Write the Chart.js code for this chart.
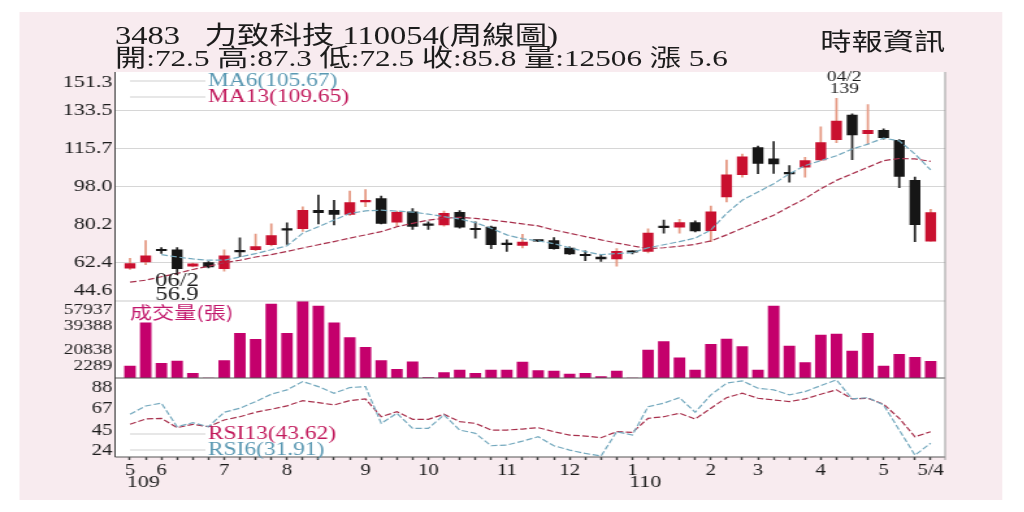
<!DOCTYPE html>
<html lang="zh-Hant">
<head>
<meta charset="utf-8">
<title>3483 力致科技 周線圖</title>
<script src="https://cdn.jsdelivr.net/npm/chart.js@4.4.1/dist/chart.umd.min.js"></script>
<style>
  html, body { margin: 0; padding: 0; background: #ffffff; }
  body { width: 1024px; height: 512px; overflow: hidden; position: relative; }
  /* the printed chart is stretched sideways, so lay it out narrow and widen it */
  #stage { position: absolute; left: 0; top: 0; width: 788px; height: 512px; transform: scaleX(1.3); transform-origin: 0 0; }
  #panel { position: absolute; left: 15.4px; top: 12px; width: 755.4px; height: 488px; background: #f8ebef; }
  #chart { position: absolute; left: 0; top: 0; }
  .txt { position: absolute; white-space: pre; font-family: "Liberation Serif", "Noto Sans CJK TC", serif; color: #1c1c1c; line-height: 1; }
  #title { left: 88.5px; top: 23px; font-size: 25px; }
  #quote { left: 88.5px; top: 46px; font-size: 24px; }
  #source { right: 61px; top: 28px; font-size: 24px; font-family: "Noto Sans CJK TC", serif; }
</style>
</head>
<body>
<div id="stage">
  <div id="panel"></div>
  <canvas id="chart" width="788" height="512"></canvas>
  <div id="title" class="txt"></div>
  <div id="quote" class="txt"></div>
  <div id="source" class="txt">時報資訊</div>
</div>
<script>
const stockCode = '3483';
const stockName = '力致科技';
const dateCode = '110054';

// one entry per week, month number where a month starts
const weekLabels = ['5','','6','','','','7','','','','8','','','','','9','','','','10','','','','','11','','','','12','','','','1','','','','','2','','','3','','','','4','','','','5','','','5/4'];
const yearLabels = [{ at: 0, text: '109' }, { at: 32, text: '110' }];

const openPrice  = [59.9, 62.8, 68.4, 68.5, 60.8, 62.5, 59.7, 67.9, 68.5, 70.8, 77.8, 78.3, 86.9, 86.9, 84.9, 90.8, 92.3, 81.3, 86.2, 80.2, 80.0, 85.9, 78.2, 79.0, 71.3, 70.5, 72.6, 72.8, 69.3, 66.1, 65.1, 64.2, 67.6, 67.7, 79.2, 79.0, 81.1, 77.4, 93.1, 103.5, 116.1, 110.8, 104.2, 106.9, 110.3, 119.8, 131.2, 122.6, 124.1, 119.5, 100.8, 72.5];
const highPrice  = [64.5, 72.8, 69.5, 69.5, 62.3, 63.0, 68.5, 74.0, 75.8, 80.5, 81.0, 88.5, 94.0, 91.5, 95.8, 96.5, 93.5, 86.5, 87.7, 81.5, 86.5, 86.7, 81.5, 79.5, 73.1, 75.7, 72.8, 74.2, 69.8, 68.0, 65.9, 69.0, 68.0, 78.2, 82.3, 82.7, 82.0, 88.8, 110.3, 113.1, 116.8, 118.9, 107.7, 111.5, 125.7, 139.0, 131.8, 136.1, 124.8, 119.8, 102.3, 87.3];
const lowPrice   = [59.3, 61.5, 66.8, 56.9, 60.5, 60.0, 58.5, 65.2, 68.0, 70.3, 71.0, 77.0, 80.5, 80.0, 84.5, 88.5, 80.5, 79.3, 78.0, 78.0, 79.5, 78.5, 73.9, 69.0, 67.7, 69.3, 72.3, 68.8, 66.3, 63.4, 63.1, 60.8, 66.5, 67.0, 76.2, 76.2, 76.8, 72.3, 90.8, 102.3, 103.9, 104.1, 100.0, 102.3, 110.0, 118.4, 110.4, 117.7, 120.0, 97.4, 72.3, 72.5];
const closePrice = [62.0, 65.7, 68.0, 59.7, 61.9, 60.5, 65.7, 67.5, 70.0, 75.1, 77.6, 86.9, 85.7, 84.9, 90.5, 91.3, 80.8, 85.9, 79.3, 79.8, 85.4, 79.0, 77.8, 70.8, 70.9, 72.0, 72.5, 69.0, 66.5, 65.7, 64.2, 67.7, 67.3, 76.2, 78.8, 81.1, 77.3, 86.2, 103.4, 111.8, 108.7, 108.5, 103.8, 110.0, 118.4, 128.4, 122.0, 124.1, 120.7, 102.6, 80.2, 85.8];
const volume     = [9029, 41600, 11060, 12790, 3540, 0, 13020, 33630, 29120, 55680, 33630, 57937, 54170, 41600, 30320, 23100, 13020, 6550, 12260, 250, 3990, 6020, 3540, 6020, 6020, 12040, 5490, 5270, 3010, 3540, 980, 5270, 0, 21070, 27310, 15270, 6020, 25360, 29340, 23550, 6020, 54170, 24080, 11510, 32350, 33110, 20310, 33630, 9030, 17830, 15570, 12506];
const ma6   = [null, null, 66.2, 65.1, 64.2, 63.6, 63.6, 65.1, 66.7, 68.5, 70.3, 76.2, 79.2, 82.3, 85.4, 86.6, 86.9, 86.5, 86.0, 85.1, 83.9, 82.8, 81.1, 78.5, 75.4, 73.6, 72.6, 71.3, 69.4, 67.6, 66.2, 66.7, 67.1, 69.4, 70.8, 72.3, 73.9, 77.7, 85.4, 91.6, 95.4, 99.2, 103.9, 107.7, 110.0, 112.3, 115.4, 117.7, 120.5, 119.2, 113.1, 105.67];
const ma13  = [53.4, 54.3, 55.9, 57.4, 59.3, 60.8, 62.4, 63.6, 65.1, 66.2, 67.7, 69.3, 70.8, 72.3, 73.9, 75.4, 76.9, 79.2, 80.8, 82.3, 83.1, 83.6, 83.1, 82.3, 81.5, 80.5, 79.6, 77.7, 76.2, 74.6, 73.1, 71.6, 70.3, 69.0, 69.4, 70.1, 71.0, 72.6, 75.4, 78.5, 81.5, 84.6, 88.5, 92.3, 96.9, 100.8, 103.9, 106.9, 110.0, 111.0, 110.8, 109.65];
const rsi6  = [61.3, 69.7, 72.5, 48.7, 52.7, 48.7, 63.3, 67.4, 74.1, 81.6, 86.0, 94.4, 89.3, 82.6, 88.3, 89.3, 52.1, 62.3, 47.0, 47.0, 60.6, 45.3, 42.0, 29.4, 30.1, 34.1, 38.5, 29.4, 25.0, 21.6, 19.0, 43.6, 40.2, 69.0, 72.5, 78.1, 63.3, 80.9, 92.8, 95.1, 87.7, 86.0, 80.9, 84.2, 90.3, 96.1, 76.8, 78.1, 70.7, 45.3, 19.9, 31.91];
const rsi13 = [51.1, 56.5, 57.2, 47.7, 51.1, 48.7, 55.5, 58.8, 63.3, 66.4, 69.7, 75.1, 73.1, 70.7, 75.1, 76.8, 58.8, 63.9, 56.2, 56.2, 61.3, 53.8, 52.1, 45.3, 45.3, 46.3, 47.7, 43.6, 40.2, 39.2, 37.5, 43.6, 43.0, 57.2, 58.8, 62.3, 56.5, 67.4, 78.1, 82.6, 77.5, 75.8, 74.1, 76.8, 81.6, 86.0, 76.8, 77.5, 71.4, 57.2, 38.5, 43.62];

const priceTicks = [44.6, 62.4, 80.2, 98.0, 115.7, 133.5, 151.3];
const volumeTicks = [2289, 20838, 39388, 57937];
const rsiTicks = [24, 45, 67, 88];
const priceGridSkip = [80.2]; // the print has no grid line at this level

const lowMark = { at: 3, label: '06/2' };
const highMark = { at: 45, label: '04/2' };

const UP = '#c9102f', DOWN = '#161616', UP_WICK = '#e69a84', DOWN_WICK = '#2a2a2a';
const VOL = '#c4006c';
const LINE_A = '#74a9be', LINE_B = '#a8304c';
const serif = '"Liberation Serif", "Noto Sans CJK TC", serif';

const last = closePrice.length - 1;
const isUp = closePrice.map((c, i) => c >= openPrice[i]);
const pts = arr => arr.map((v, i) => ({ x: i, y: v }));

document.getElementById('title').textContent = stockCode + '   ' + stockName + ' ' + dateCode + '(周線圖)';
document.getElementById('quote').textContent =
    '開:' + openPrice[last].toFixed(1) + ' 高:' + highPrice[last].toFixed(1) +
    ' 低:' + lowPrice[last].toFixed(1) + ' 收:' + closePrice[last].toFixed(1) +
    ' 量:' + volume[last] + ' 漲 ' + (closePrice[last] - closePrice[last - 1]).toFixed(1);

// push the first and last label of a pane inside it
function edgeLabel(text, i, n) {
    if (i === 0) return [text, ''];
    if (i === n - 1) return ['', text];
    return text;
}

const decorations = {
    id: 'decorations',
    beforeDraw(chart) {
        const { ctx, chartArea: a } = chart;
        ctx.save();
        ctx.fillStyle = '#ffffff';
        ctx.fillRect(a.left, a.top, a.right - a.left, a.bottom - a.top);
        ctx.restore();
    },
    afterDraw(chart) {
        const { ctx, chartArea: a, scales } = chart;
        const { x, yP, yV, yR } = scales;
        ctx.save();
        ctx.lineWidth = 1;

        function hline(y, color) {
            ctx.strokeStyle = color;
            ctx.beginPath();
            ctx.moveTo(a.left, y);
            ctx.lineTo(a.right, y);
            ctx.stroke();
        }
        hline(yP.bottom, '#c9c9c9');
        hline(yV.bottom, '#555555');
        hline(a.bottom, '#555555');
        ctx.strokeStyle = '#444444';
        ctx.beginPath(); ctx.moveTo(a.left, a.top); ctx.lineTo(a.left, a.bottom); ctx.stroke();
        ctx.strokeStyle = '#9a9a9a';
        ctx.beginPath(); ctx.moveTo(a.right, a.top); ctx.lineTo(a.right, a.bottom + 3); ctx.stroke();

        // legends with a short grey key line
        const x0 = x.getPixelForValue(0);
        function legend(y, text, color) {
            ctx.strokeStyle = '#cfcfcf';
            ctx.beginPath(); ctx.moveTo(x0, y); ctx.lineTo(x0 + 58, y); ctx.stroke();
            ctx.fillStyle = color;
            ctx.font = '18px ' + serif;
            ctx.textAlign = 'left';
            ctx.textBaseline = 'middle';
            ctx.fillText(text, x0 + 60, y);
        }
        legend(a.top + 9, 'MA6(' + ma6[last].toFixed(2) + ')', '#5b99b3');
        legend(a.top + 25, 'MA13(' + ma13[last].toFixed(2) + ')', '#c21a5c');
        legend(yR.bottom - 23, 'RSI13(' + rsi13[last].toFixed(2) + ')', '#c21a5c');
        legend(yR.bottom - 7, 'RSI6(' + rsi6[last].toFixed(2) + ')', '#5b99b3');

        ctx.fillStyle = '#c2186c';
        ctx.font = '17px "Noto Sans CJK TC", serif';
        ctx.fillText('成交量(張)', x0, yV.top + 12);

        // low and high marks
        ctx.fillStyle = '#1c1c1c';
        ctx.textAlign = 'center';
        const lx = x.getPixelForValue(lowMark.at);
        const ly = yP.getPixelForValue(lowPrice[lowMark.at]);
        ctx.font = '19px ' + serif;
        ctx.fillText(lowMark.label, lx, ly + 6);
        ctx.fillText(lowPrice[lowMark.at].toFixed(1), lx, ly + 20);
        const hx = x.getPixelForValue(highMark.at) + 6;
        const hy = yP.getPixelForValue(highPrice[highMark.at]);
        ctx.font = '15px ' + serif;
        ctx.fillText(highMark.label, hx, hy - 21);
        ctx.fillText(String(Math.round(highPrice[highMark.at])), hx, hy - 9);

        // year under the first month of each year
        ctx.textAlign = 'left';
        ctx.font = '17px ' + serif;
        yearLabels.forEach(y => ctx.fillText(y.text, x.getPixelForValue(y.at) - 2.5, 483));
        ctx.restore();
    }
};

const lineStyle = { type: 'line', borderWidth: 1.2, borderDash: [5, 2], pointRadius: 0, tension: 0, order: 1 };
const tickFont = size => ({ family: serif, size: size });

new Chart(document.getElementById('chart'), {
    type: 'bar',
    data: {
        datasets: [
            Object.assign({ label: 'MA6', yAxisID: 'yP', data: pts(ma6), borderColor: LINE_A }, lineStyle),
            Object.assign({ label: 'MA13', yAxisID: 'yP', data: pts(ma13), borderColor: LINE_B }, lineStyle),
            {
                type: 'bar', label: 'body', yAxisID: 'yP',
                data: openPrice.map((o, i) => ({ x: i, y: [o, closePrice[i]] })),
                backgroundColor: isUp.map(u => u ? UP : DOWN),
                barThickness: 7.7, minBarLength: 1.5, grouped: false, order: 2
            },
            {
                type: 'bar', label: 'wick', yAxisID: 'yP',
                data: lowPrice.map((l, i) => ({ x: i, y: [l, highPrice[i]] })),
                backgroundColor: isUp.map(u => u ? UP_WICK : DOWN_WICK),
                barThickness: 1.1, grouped: false, order: 3
            },
            {
                type: 'bar', label: '成交量', yAxisID: 'yV', data: pts(volume),
                backgroundColor: VOL, barThickness: 8.2, grouped: false, order: 4
            },
            Object.assign({ label: 'RSI6', yAxisID: 'yR', data: pts(rsi6), borderColor: LINE_A }, lineStyle),
            Object.assign({ label: 'RSI13', yAxisID: 'yR', data: pts(rsi13), borderColor: LINE_B }, lineStyle)
        ]
    },
    options: {
        responsive: false,
        animation: false,
        events: [],
        layout: { padding: { left: 28.5, right: 61, top: 72, bottom: 10 } },
        plugins: { legend: { display: false }, tooltip: { enabled: false } },
        scales: {
            x: {
                type: 'linear', position: 'bottom', min: -0.952, max: 51.92, offset: false,
                afterBuildTicks: s => { s.ticks = weekLabels.map((_, i) => ({ value: i })); },
                afterFit: s => { s.height = 45; },
                ticks: {
                    autoSkip: false, maxRotation: 0, padding: 1, color: '#1c1c1c', font: tickFont(16),
                    callback: (v, i) => weekLabels[i]
                },
                grid: { drawOnChartArea: false, drawTicks: true, tickLength: 3, tickColor: '#444444', tickWidth: 1.5, offset: false },
                border: { display: false }
            },
            yR: {
                type: 'linear', position: 'left', stack: 'panes', stackWeight: 79, weight: 1,
                min: 18, max: 98,
                afterBuildTicks: s => { s.ticks = rsiTicks.map(v => ({ value: v })); },
                afterFit: s => { s.width = 60; },
                ticks: { autoSkip: false, padding: 2, color: '#1c1c1c', font: tickFont(16), callback: v => String(v) },
                grid: { display: false, drawTicks: false },
                border: { display: false }
            },
            yV: {
                type: 'linear', position: 'left', stack: 'panes', stackWeight: 77, weight: 2,
                min: 0, max: volumeTicks[volumeTicks.length - 1],
                afterBuildTicks: s => { s.ticks = volumeTicks.map(v => ({ value: v })); },
                afterFit: s => { s.width = 60; },
                ticks: {
                    autoSkip: false, padding: 2, color: '#1c1c1c', font: tickFont(15),
                    callback: (v, i) => edgeLabel(String(v), i, volumeTicks.length)
                },
                grid: { display: false, drawTicks: false },
                border: { display: false }
            },
            yP: {
                type: 'linear', position: 'left', stack: 'panes', stackWeight: 229, weight: 3,
                min: priceTicks[0], max: priceTicks[priceTicks.length - 1],
                afterBuildTicks: s => { s.ticks = priceTicks.map(v => ({ value: v })); },
                afterFit: s => { s.width = 60; },
                ticks: {
                    autoSkip: false, padding: 2, color: '#1c1c1c', font: tickFont(17),
                    callback: (v, i) => edgeLabel(v.toFixed(1), i, priceTicks.length)
                },
                grid: {
                    drawTicks: false, lineWidth: 1,
                    color: ctx => {
                        const v = ctx.tick ? ctx.tick.value : null;
                        if (v === priceTicks[0] || v === priceTicks[priceTicks.length - 1] || priceGridSkip.includes(v)) {
                            return 'rgba(0,0,0,0)';
                        }
                        return '#d6d6d6';
                    }
                },
                border: { display: false }
            }
        }
    },
    plugins: [decorations]
});
</script>
</body>
</html>
